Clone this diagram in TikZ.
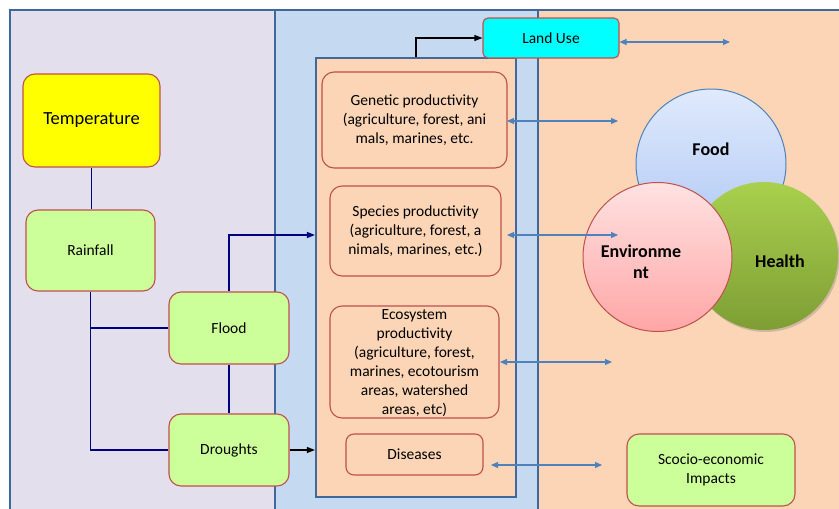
\documentclass[tikz,border=0pt]{standalone}
\usepackage{fontspec}
\setmainfont{Carlito}
\usetikzlibrary{arrows.meta,shadows}
\definecolor{lav}{HTML}{E4DFEC}
\definecolor{ltblue}{HTML}{C5D9F1}
\definecolor{peach}{HTML}{FBD5B5}
\definecolor{pborder}{HTML}{41689A}
\definecolor{rborder}{HTML}{C0504D}
\definecolor{lgreen}{HTML}{CCFF99}
\definecolor{navyc}{HTML}{000080}
\definecolor{arrblue}{HTML}{4F81BD}
\definecolor{cyanc}{HTML}{00FFFF}
\definecolor{yel}{HTML}{FFFF00}
\definecolor{foodtop}{HTML}{E0EAFC}
\definecolor{foodbot}{HTML}{AFC8F5}
\definecolor{envtop}{HTML}{FFE2E2}
\definecolor{envbot}{HTML}{FFA6A6}
\definecolor{heatop}{HTML}{A9D04E}
\definecolor{heabot}{HTML}{7E9E34}
\begin{document}
\begin{tikzpicture}[x=1pt,y=-1pt,
  panel/.style={draw=pborder,line width=2.2pt},
  box/.style={draw=rborder,line width=1.1pt,rounded corners=12pt,align=center,
     font=\fontsize{15.5}{19}\selectfont,inner sep=2pt},
  gbox/.style={box,fill=lgreen},
  pbox/.style={box,fill=peach},
  navyline/.style={draw=navyc,line width=1.1pt},
  navyarr/.style={navyline,-{Triangle[length=8pt,width=6pt]}},
  blackarr/.style={draw=black,line width=1.1pt,-{Triangle[length=8pt,width=6pt]}},
  dbl/.style={draw=arrblue,line width=1.1pt,{Triangle[length=7pt,width=6pt]}-{Triangle[length=7pt,width=6pt]}},
  circtext/.style={font=\fontsize{18}{21}\selectfont\bfseries,align=center}
]
\useasboundingbox (0,0) rectangle (839,509);
\fill[white] (0,0) rectangle (839,509);
% panels
\fill[lav] (10,10) rectangle (275,509);
\fill[ltblue] (275,10) rectangle (538,509);
\fill[peach] (538,10) rectangle (839,509);
\draw[panel] (10,509) -- (10,10) -- (839,10);
\draw[panel] (275,10) -- (275,509);
\draw[panel] (538,10) -- (538,509);
% inner box
\node[panel,fill=peach,minimum width=200pt,minimum height=439pt,inner sep=0pt] (inner) at (416,277.5) {};
% left boxes
\node[box,fill=yel,minimum width=137pt,minimum height=93pt,font=\fontsize{18.5}{21}\selectfont] (temp) at (91.5,120.5) {Temperature};
\node[gbox,minimum width=129pt,minimum height=81pt] (rain) at (90.5,250.5) {Rainfall};
\node[gbox,minimum width=120pt,minimum height=72pt] (flood) at (229,328) {Flood};
\node[gbox,minimum width=120pt,minimum height=72pt] (drought) at (229,450) {Droughts};
% middle boxes
\node[box,fill=cyanc,rounded corners=5pt,minimum width=136pt,minimum height=40pt] (land) at (551,38) {Land Use};
\node[pbox,minimum width=185pt,minimum height=96pt] (gen) at (414.5,120) {Genetic productivity\\(agriculture, forest, ani\\mals, marines, etc.};
\node[pbox,minimum width=171pt,minimum height=90pt] (spec) at (415.5,231) {Species productivity\\(agriculture, forest, a\\nimals, marines, etc.)};
\node[pbox,minimum width=169pt,minimum height=112pt] (eco) at (414.5,362) {};
\node[align=center,font=\fontsize{15.5}{19}\selectfont] (ecotext) at (414.5,363) {Ecosystem\\productivity\\(agriculture, forest,\\marines, ecotourism\\areas, watershed\\areas, etc)};
\node[pbox,rounded corners=8pt,minimum width=137pt,minimum height=41pt] (dis) at (414.5,454.5) {Diseases};
\node[gbox,minimum width=168pt,minimum height=72pt] (socio) at (711,470) {Scocio-economic\\Impacts};
% circles
\node[circle,draw=arrblue,line width=1pt,top color=foodtop,bottom color=foodbot,minimum size=150pt] (food) at (711,164) {};
\node[circle,draw=none,top color=heatop,bottom color=heabot,
  drop shadow={opacity=0.35,shadow xshift=1.5pt,shadow yshift=-2pt},minimum size=148pt] (health) at (764,256) {};
\node[circle,draw=rborder,line width=1pt,top color=envtop,bottom color=envbot,minimum size=149pt] (env) at (657.5,257) {};
\node[circtext] at (711,149) {Food};
\node[circtext] at (780,261) {Health};
\node[circtext] at (641,261.5) {Environme\\nt};
% navy connectors
\draw[navyline] (temp.south) -- (temp.south |- rain.north);
\draw[navyline] (rain.south) |- (drought.west);
\draw[navyline] (rain.south |- flood.west) -- (flood.west);
\draw[navyline] (flood.south) -- (drought.north);
\coordinate (specin) at (inner.west |- 0,235);
\draw[navyarr] (flood.north) |- (specin);
\draw[blackarr] (drought.east) -- (drought.east -| inner.west);
\draw[blackarr] (inner.north) |- (land.west);
% blue double arrows
\coordinate (a1) at (730,42);
\draw[dbl] (land.east |- a1) -- (a1);
\coordinate (b0) at (507,121); \coordinate (b1) at (618,121);
\draw[dbl] (b0) -- (b1);
\coordinate (c0) at (507,235); \coordinate (c1) at (618,235);
\draw[dbl] (c0) -- (c1);
\coordinate (d0) at (500,362); \coordinate (d1) at (612,362);
\draw[dbl] (d0) -- (d1);
\coordinate (e0) at (491,465); \coordinate (e1) at (602,465);
\draw[dbl] (e0) -- (e1);
\end{tikzpicture}
\end{document}
